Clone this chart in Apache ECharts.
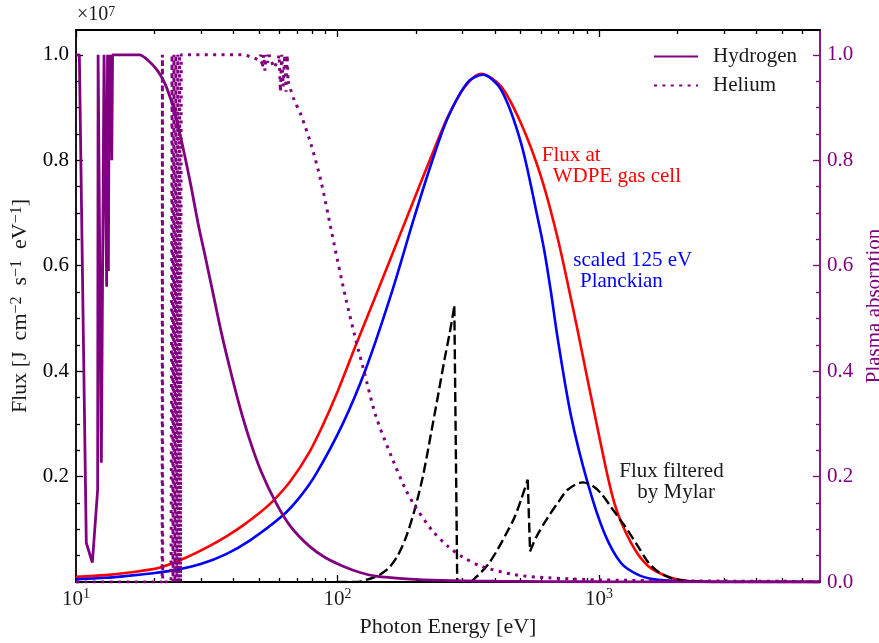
<!DOCTYPE html>
<html><head><meta charset="utf-8">
<script src="https://cdn.jsdelivr.net/npm/echarts@6/dist/echarts.min.js"></script>
<style>html,body{margin:0;padding:0;background:#fff}#c{width:879px;height:643px}</style>
</head><body><div id="c"></div>
<script>
// ---- Data (photon energy in eV; flux in units of 1e7 J cm^-2 s^-1 eV^-1; absorption 0..1) ----
const redE  = [10, 13, 16, 20.8, 26, 32.35, 38, 43.4, 50, 56.5, 66, 78, 88, 98.7, 117.7, 146.7, 170, 196.7, 230, 263.9, 305.4, 353.9, 421.9, 503, 600, 695, 793, 854, 988.6, 1144, 1326, 1536, 1885, 2248, 2928, 7000];
const redV  = [0.010, 0.013, 0.018, 0.027, 0.045, 0.068, 0.088, 0.107, 0.130, 0.153, 0.191, 0.246, 0.298, 0.354, 0.450, 0.568, 0.648, 0.727, 0.811, 0.882, 0.938, 0.964, 0.940, 0.870, 0.769, 0.652, 0.522, 0.445, 0.290, 0.150, 0.074, 0.031, 0.008, 0.0015, 0.0, 0.0];

const blueE = [10, 13, 16, 20, 24.1, 30, 37.5, 46, 61.7, 72, 82.8, 104.7, 128.5, 160.2, 196.7, 230, 263.9, 314.7, 359.2, 421.9, 503, 583, 618, 655, 695, 781, 905, 1048, 1214, 1406, 1628, 2059, 2928, 7000];
const blueV = [0.005, 0.008, 0.012, 0.017, 0.023, 0.034, 0.053, 0.078, 0.126, 0.162, 0.205, 0.300, 0.405, 0.545, 0.692, 0.798, 0.880, 0.948, 0.962, 0.934, 0.833, 0.69, 0.628, 0.55, 0.462, 0.316, 0.188, 0.093, 0.036, 0.014, 0.005, 0.0015, 0.0, 0.0];

const mylarE = [100, 118, 128.5, 140, 146.7, 158, 169.9, 182.8, 196.7, 212, 227.9, 242, 256.1, 268, 279.7, 287, 324, 340, 353.9, 380, 409.8, 440, 474.5, 505, 533.8, 545, 575, 636.6, 700, 759, 866, 940, 1018, 1120, 1214, 1288, 1400, 1550, 1700, 1900, 2248, 2928, 7000];
const mylarV = [0, 0, 0.004, 0.010, 0.015, 0.028, 0.050, 0.085, 0.135, 0.200, 0.282, 0.352, 0.420, 0.470, 0.523, 0, 0, 0.010, 0.018, 0.036, 0.062, 0.090, 0.122, 0.158, 0.194, 0.058, 0.085, 0.122, 0.152, 0.175, 0.189, 0.183, 0.168, 0.14, 0.116, 0.098, 0.070, 0.036, 0.018, 0.007, 0.0015, 0, 0];
// sharp absorption edges: [from, to, smooth?] index ranges of the polyline
const mylarPieces = [[0, 14, true], [14, 16, false], [16, 24, true], [24, 25, false], [25, 42, true]];

const hydrogenE = [10.0, 10.3, 10.95, 11.55, 12.1, 12.15, 12.5, 12.8, 13.0, 13.1, 13.2, 13.3, 13.4, 13.5, 13.6, 13.7, 13.8, 15.0, 17.5, 18.8, 20.5, 21.8, 22.8, 23.8, 25.6, 27.5, 29.3, 31.5, 33.8, 36.0, 38.6, 42.0, 46.0, 51.0, 58.2, 66.0, 78.0, 90.0, 105, 122, 140, 183, 250, 400, 1000, 7000];
const hydrogenV = [1.0, 1.0, 0.074, 0.037, 0.175, 1.0, 0.226, 1.0, 1.0, 0.56, 1.0, 0.59, 1.0, 0.86, 1.0, 0.80, 1.0, 1.0, 1.0, 0.99, 0.97, 0.947, 0.922, 0.893, 0.826, 0.752, 0.680, 0.608, 0.536, 0.472, 0.409, 0.338, 0.272, 0.210, 0.150, 0.106, 0.068, 0.046, 0.030, 0.018, 0.011, 0.006, 0.003, 0.0015, 0.0005, 0.0];
const hydrogenPieces = [[0, 17, false], [17, 45, true]];

const heliumE = [10, 21.35, 21.4, 21.45, 23.1, 23.3, 23.5, 23.7, 23.9, 24.1, 24.3, 24.5, 24.7, 24.9, 25.1, 25.25, 44, 47.5, 50, 51, 51.6, 52.2, 52.8, 53.4, 54, 54.7, 57.2, 59.2, 59.8, 60.5, 61.2, 62, 62.8, 63.6, 64.2, 64.7, 68.2, 72.5, 79.2, 86.5, 94.4, 100, 107.8, 116, 124.9, 140.4, 162.6, 182.8, 196.7, 230, 263.9, 300, 353.9, 474.5, 636.6, 1018, 2455, 7000];
const heliumV = [0, 0, 1, 0, 0, 1, 0, 1, 0, 1, 0, 1, 0, 1, 0, 1, 1, 0.995, 0.99, 1, 0.975, 1, 0.97, 1, 0.985, 1, 0.975, 0.99, 1, 0.93, 1, 0.94, 1, 0.93, 1, 0.95, 0.915, 0.886, 0.83, 0.76, 0.67, 0.61, 0.536, 0.47, 0.409, 0.314, 0.232, 0.174, 0.146, 0.098, 0.068, 0.048, 0.030, 0.014, 0.008, 0.004, 0.002, 0.001];
const heliumPieces = [[0, 35, false], [35, 57, true]];

// ---- Axis ticks ----
const xMajor = [10, 100, 1000];
const xMinor = [20,30,40,50,60,70,80,90,200,300,400,500,600,700,800,900,2000,3000,4000,5000,6000];
const yMajor = [0, 0.2, 0.4, 0.6, 0.8, 1.0];
const yMinor = [0.05,0.1,0.15,0.25,0.3,0.35,0.45,0.5,0.55,0.65,0.7,0.75,0.85,0.9,0.95];
const yLeftLabels = [0.2, 0.4, 0.6, 0.8, 1.0];
const yRightLabels = [0, 0.2, 0.4, 0.6, 0.8, 1.0];

const FONT = '"Liberation Serif", "DejaVu Serif", serif';
const PURPLE = '#800080';
const TXT = '#1a1a1a';
const X_MIN = 10, X_MAX = 7000, Y_MAX = 1.047;

const pairs = (xs, ys) => xs.map((x, i) => [x, ys[i]]);

function xAxisDef(position, ticks, len, showLine, showLabels, extra) {
  return Object.assign({
    type: 'log', logBase: 10, min: X_MIN, max: X_MAX, position: position,
    axisLine: { show: showLine, onZero: false, lineStyle: { color: '#000', width: 1.8 } },
    axisTick: { show: true, inside: true, length: len, customValues: ticks, lineStyle: { color: '#000', width: 1.3 } },
    minorTick: { show: false },
    splitLine: { show: false },
    axisLabel: showLabels ? {
      show: true, customValues: xMajor, margin: 5, color: TXT,
      fontFamily: FONT, fontSize: 21, lineHeight: 24,
      formatter: v => '10{s|' + Math.round(Math.log10(v)) + '}',
      rich: { s: { fontFamily: FONT, fontSize: 14, lineHeight: 14, verticalAlign: 'top', color: TXT } }
    } : { show: false }
  }, extra || {});
}

function yAxisDef(position, ticks, len, color, showLine, labels, extra) {
  return Object.assign({
    type: 'value', min: 0, max: Y_MAX, position: position,
    axisLine: { show: showLine, onZero: false, lineStyle: { color: color, width: 1.8 } },
    axisTick: { show: true, inside: true, length: len, customValues: ticks, lineStyle: { color: color, width: 1.3 } },
    minorTick: { show: false },
    splitLine: { show: false },
    axisLabel: labels ? {
      show: true, customValues: labels, margin: 7, color: color,
      fontFamily: FONT, fontSize: 21, formatter: v => v.toFixed(1)
    } : { show: false }
  }, extra || {});
}

// build one or more line series from index pieces of a data set
function pieceSeries(name, xs, ys, pieces, yAxisIndex, lineStyle) {
  const all = pairs(xs, ys);
  return pieces.map(([a, b, sm]) => ({
    name: name, type: 'line', xAxisIndex: 0, yAxisIndex: yAxisIndex,
    data: all.slice(a, b + 1), smooth: sm ? 0.3 : false,
    showSymbol: false, symbol: 'none',
    itemStyle: { color: lineStyle.color }, lineStyle: lineStyle
  }));
}

const purpleSolid = { color: PURPLE, width: 2.8 };
const purpleDotted = { color: PURPLE, width: 3, type: [3, 5.4] };

const chart = echarts.init(document.getElementById('c'), null, { renderer: 'canvas' });

chart.setOption({
  animation: false,
  backgroundColor: '#fff',
  grid: { left: 76, right: 59, top: 30, bottom: 61, containLabel: false, outerBoundsMode: 'none' },
  legend: {
    data: ['Hydrogen', 'Helium'], orient: 'vertical', left: 653, top: 46, padding: 0,
    itemWidth: 44, itemHeight: 22, itemGap: 8, selectedMode: false,
    itemStyle: { opacity: 0 },
    textStyle: { fontFamily: FONT, fontSize: 21, color: TXT, padding: [0, 0, 0, 10] }
  },
  xAxis: [
    xAxisDef('bottom', xMajor, 7, true, true, {
      name: 'Photon Energy [eV]', nameLocation: 'middle', nameGap: 33,
      nameTextStyle: { fontFamily: FONT, fontSize: 22, color: TXT }
    }),
    xAxisDef('bottom', xMinor, 4, false, false),
    xAxisDef('top', xMajor, 7, true, false),
    xAxisDef('top', xMinor, 4, false, false)
  ],
  yAxis: [
    yAxisDef('left', yMajor, 7, '#000', true, yLeftLabels, {
      name: 'Flux [J\u2002cm{s|\u22122}\u2002s{s|\u22121}\u2002eV{s|\u22121}]', nameLocation: 'middle', nameGap: 43, nameRotate: 90,
      nameTextStyle: { fontFamily: FONT, fontSize: 22, color: TXT, lineHeight: 23,
        rich: { s: { fontFamily: FONT, fontSize: 16, lineHeight: 14, verticalAlign: 'top', color: TXT } } }
    }),
    yAxisDef('right', yMajor, 7, PURPLE, true, yRightLabels, {
      name: 'Plasma absorption', nameLocation: 'middle', nameGap: 37, nameRotate: 90,
      nameTextStyle: { fontFamily: FONT, fontSize: 21, color: PURPLE }
    }),
    yAxisDef('left', yMinor, 4, '#000', false, null),
    yAxisDef('right', yMinor, 4, PURPLE, false, null)
  ],
  series: [].concat(
    pieceSeries('Flux at WDPE gas cell', redE, redV, [[0, redE.length - 1, true]], 0, { color: '#ff0000', width: 2.6 }),
    pieceSeries('scaled 125 eV Planckian', blueE, blueV, [[0, blueE.length - 1, true]], 0, { color: '#0000ff', width: 2.6 }),
    pieceSeries('Flux filtered by Mylar', mylarE, mylarV, mylarPieces, 0, { color: '#000', width: 2.4, type: [10, 4.3] }),
    pieceSeries('Hydrogen', hydrogenE, hydrogenV, hydrogenPieces, 1, purpleSolid),
    pieceSeries('Helium', heliumE, heliumV, heliumPieces, 1, purpleDotted)
  ),
  graphic: [
    { type: 'text', x: 77, y: 5, style: { text: '\u00d710{s|7}', fill: TXT, font: '20px ' + FONT,
        rich: { s: { fontFamily: FONT, fontSize: 14, verticalAlign: 'top', fill: TXT } } } },
    { type: 'text', x: 541.7, y: 155, style: { text: 'Flux at', fill: '#ff0000', font: '21px ' + FONT, verticalAlign: 'middle' } },
    { type: 'text', x: 552.7, y: 176.5, style: { text: 'WDPE gas cell', fill: '#ff0000', font: '21px ' + FONT, verticalAlign: 'middle' } },
    { type: 'text', x: 573.3, y: 260.5, style: { text: 'scaled 125 eV', fill: '#0000ff', font: '21px ' + FONT, verticalAlign: 'middle' } },
    { type: 'text', x: 580, y: 281.5, style: { text: 'Planckian', fill: '#0000ff', font: '21px ' + FONT, verticalAlign: 'middle' } },
    { type: 'text', x: 619.3, y: 471.5, style: { text: 'Flux filtered', fill: TXT, font: '21px ' + FONT, verticalAlign: 'middle' } },
    { type: 'text', x: 637.3, y: 492.5, style: { text: 'by Mylar', fill: TXT, font: '21px ' + FONT, verticalAlign: 'middle' } }
  ]
});
</script>
</body></html>
